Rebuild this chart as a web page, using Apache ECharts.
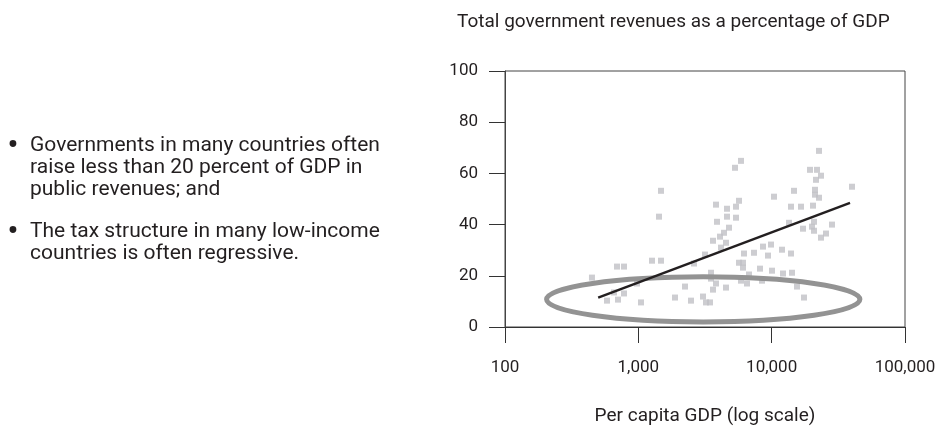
<!DOCTYPE html>
<html>
<head>
<meta charset="utf-8">
<script src="https://cdn.jsdelivr.net/npm/echarts@6/dist/echarts.min.js"></script>
<style>
html,body{margin:0;padding:0;background:#fff;}
#chart{width:937px;height:428px;}
</style>
</head>
<body>
<div id="chart"></div>
<script>
// per capita GDP (US$, log scale) and total government revenues (% of GDP)
var gdpPerCapita = [
    449, 582, 704, 781, 657, 692, 781, 977, 1047, 1266,
    1479, 1479, 1429, 1884, 2239, 2483, 2616, 3162, 3055, 3218,
    3448, 3631, 3823, 3890, 3508, 3508, 3631, 3823, 5309, 5888,
    4624, 5689, 5402, 4624, 5402, 4786, 4390, 4097, 4545, 4169,
    10411, 14706, 13964, 16596, 13490, 17179, 6202, 7370, 8610, 9886,
    9387, 11952, 13964, 5689, 6095, 6095, 8175, 10058, 12162, 14208,
    6761, 5888, 6531, 8462, 15488, 4545, 17479, 22646, 19387, 21878,
    23442, 21502, 21135, 21135, 22646, 40040, 20417, 20773, 20065, 20773,
    28348, 25558, 23442
];
var revenueShare = [
    19.3, 10.3, 10.7, 13.1, 13.5, 23.6, 23.6, 17.0, 9.6, 25.9,
    25.9, 53.2, 43.1, 11.5, 15.8, 10.3, 24.8, 28.3, 11.9, 9.6,
    9.6, 33.7, 47.8, 41.1, 21.2, 18.9, 14.6, 17.0, 62.2, 64.9,
    46.2, 49.3, 47.0, 43.1, 42.7, 38.8, 36.8, 35.3, 32.9, 31.0,
    50.9, 53.2, 47.0, 47.0, 40.7, 38.4, 28.7, 29.0, 31.4, 32.2,
    27.9, 30.2, 28.7, 25.1, 23.2, 25.1, 22.8, 22.0, 20.9, 21.2,
    20.5, 18.1, 17.0, 18.1, 15.8, 15.4, 11.5, 68.8, 61.4, 61.4,
    59.1, 57.5, 53.6, 51.7, 50.5, 54.8, 47.4, 41.1, 39.2, 37.6,
    40.0, 36.5, 34.9
];

// fitted line end points
var trendGdp = [500, 38700];
var trendRevenue = [11.5, 48.5];

// highlighted region (ellipse extents in data units)
var ellipseGdp = [205, 45900];
var ellipseRevenue = [2, 19.6];

var chartTitle = 'Total government revenues as a percentage of GDP';
var xName = 'Per capita GDP (log scale)';
var bullets = [
    'Governments in many countries often\nraise less than 20 percent of GDP in\npublic revenues; and',
    'The tax structure in many low-income\ncountries is often regressive.'
];

var FONT = 'Roboto';
var INK = '#231f20';

var points = gdpPerCapita.map(function (g, i) { return [g, revenueShare[i]]; });
var trend = trendGdp.map(function (g, i) { return [g, trendRevenue[i]]; });

var chart = echarts.init(document.getElementById('chart'));

var option = {
    animation: false,
    title: {
        text: chartTitle,
        left: 452,
        top: 8,
        textStyle: { fontFamily: FONT, fontSize: 19, fontWeight: 'normal', color: INK }
    },
    grid: {
        left: 505, right: 32, top: 71, bottom: 101,
        containLabel: false,
        outerBoundsMode: 'none',
        show: true, borderColor: '#444', borderWidth: 1
    },
    xAxis: {
        type: 'log',
        logBase: 10,
        min: 100,
        max: 100000,
        name: xName,
        nameLocation: 'middle',
        nameGap: 80,
        nameTextStyle: { fontFamily: FONT, fontSize: 19, color: INK },
        axisLine: { lineStyle: { color: '#333', width: 1 } },
        axisTick: { show: true, inside: false, length: 16, lineStyle: { color: '#333' } },
        minorTick: { show: false },
        splitLine: { show: false },
        axisLabel: {
            margin: 32,
            fontFamily: FONT, fontSize: 17, color: INK,
            formatter: function (v) {
                return String(Math.round(v)).replace(/\B(?=(\d{3})+(?!\d))/g, ',');
            }
        }
    },
    yAxis: {
        type: 'value',
        min: 0,
        max: 100,
        interval: 20,
        axisLine: { show: true, lineStyle: { color: '#444', width: 1 } },
        axisTick: { show: true, inside: false, length: 16, lineStyle: { color: '#333' } },
        splitLine: { show: false },
        axisLabel: { margin: 27, fontFamily: FONT, fontSize: 17, color: INK }
    },
    series: [
        {
            name: 'Countries',
            type: 'scatter',
            symbol: 'rect',
            symbolSize: 6,
            itemStyle: { color: '#c0c1c5' },
            z: 2,
            data: points
        },
        {
            name: 'Trend',
            type: 'line',
            symbol: 'none',
            lineStyle: { color: INK, width: 2.5 },
            z: 5,
            data: trend
        }
    ]
};

chart.setOption(option);

// ellipse and bullet text, placed after the axes exist
var pLeft = chart.convertToPixel({ gridIndex: 0 }, [ellipseGdp[0], ellipseRevenue[0]]);
var pRight = chart.convertToPixel({ gridIndex: 0 }, [ellipseGdp[1], ellipseRevenue[1]]);

var textStyle = { fontFamily: FONT, fontSize: 21, fill: INK, lineHeight: 22, verticalAlign: 'top' };
var dotStyle = { text: '•', fontFamily: FONT, fontSize: 34, fill: INK, align: 'center', verticalAlign: 'middle' };

chart.setOption({
    graphic: [
        {
            type: 'ellipse',
            z: 3,
            shape: {
                cx: (pLeft[0] + pRight[0]) / 2,
                cy: (pLeft[1] + pRight[1]) / 2,
                rx: (pRight[0] - pLeft[0]) / 2,
                ry: (pLeft[1] - pRight[1]) / 2
            },
            style: { fill: 'none', stroke: '#939393', lineWidth: 5 }
        },
        { type: 'text', x: 13, y: 147, style: dotStyle },
        { type: 'text', left: 30, top: 135, style: Object.assign({ text: bullets[0] }, textStyle) },
        { type: 'text', x: 13, y: 233, style: dotStyle },
        { type: 'text', left: 30, top: 221, style: Object.assign({ text: bullets[1] }, textStyle) }
    ]
});
</script>
</body>
</html>
